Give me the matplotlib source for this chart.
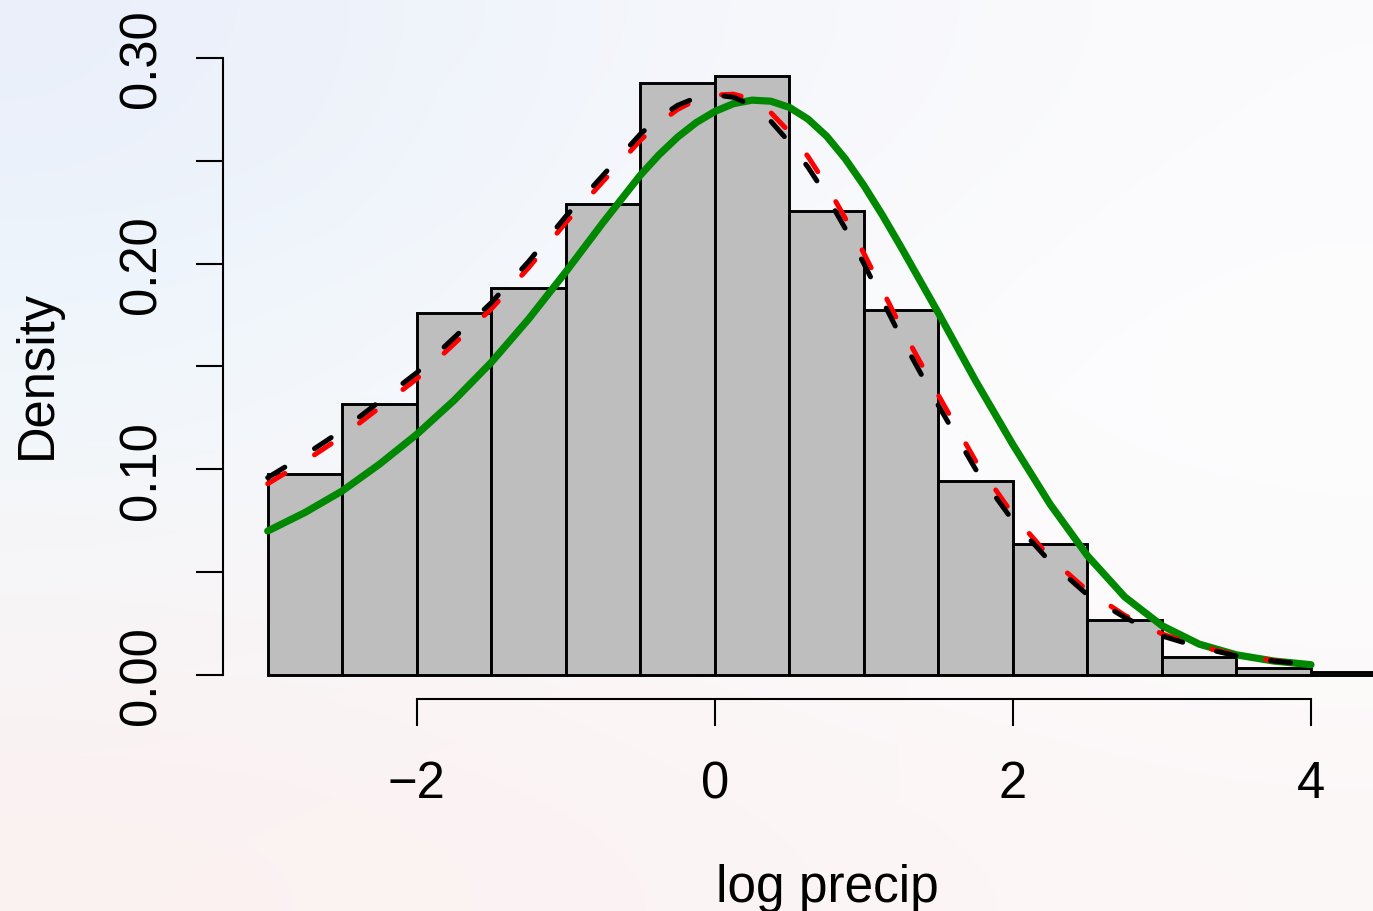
import numpy as np
import matplotlib
matplotlib.use("Agg")
import matplotlib.pyplot as plt

plt.rcParams['font.family'] = ['Liberation Sans', 'DejaVu Sans']

# histogram of log precip (density scale), bins of width 0.5
bin_edges = [-3.0, -2.5, -2.0, -1.5, -1.0, -0.5, 0.0, 0.5, 1.0, 1.5,
             2.0, 2.5, 3.0, 3.5, 4.0, 4.5]
bin_density = [0.0977, 0.1318, 0.1760, 0.1880, 0.2290, 0.2878, 0.2912,
               0.2256, 0.1775, 0.0943, 0.0637, 0.0267, 0.0088, 0.0034, 0.0015]

# fitted curves (finer spacing around the peak)
curve_x = [-3.00, -2.75, -2.50, -2.25, -2.00, -1.75, -1.50, -1.25, -1.00,
           -0.75, -0.50, -0.375, -0.25, -0.125, 0.00, 0.125, 0.25, 0.375,
           0.50, 0.625, 0.75, 0.875, 1.00, 1.125, 1.25, 1.50, 1.75, 2.00,
           2.25, 2.50, 2.75, 3.00, 3.25, 3.50, 3.75, 4.00]
green_fit = [0.0700, 0.0790, 0.0895, 0.1025, 0.1170, 0.1335, 0.1520, 0.1730,
             0.1960, 0.2200, 0.2430, 0.2529, 0.2615, 0.2686, 0.2740, 0.2778,
             0.2795, 0.2790, 0.2760, 0.2703, 0.2620, 0.2510, 0.2380, 0.2235,
             0.2080, 0.1760, 0.1430, 0.1120, 0.0830, 0.0580, 0.0380, 0.0240,
             0.0150, 0.0098, 0.0068, 0.0050]
red_fit = [0.093, 0.104, 0.116, 0.130, 0.144, 0.161, 0.178, 0.198, 0.220,
           0.240, 0.260, 0.2683, 0.275, 0.2796, 0.282, 0.2824, 0.280, 0.2735,
           0.264, 0.2521, 0.238, 0.2221, 0.205, 0.187, 0.169, 0.136, 0.104,
           0.078, 0.057, 0.041, 0.029, 0.020, 0.014, 0.0097, 0.007, 0.005]
black_fit = [0.096, 0.107, 0.119, 0.133, 0.147, 0.164, 0.181, 0.201, 0.223,
             0.243, 0.263, 0.2709, 0.277, 0.2807, 0.282, 0.2809, 0.277, 0.2693,
             0.259, 0.2469, 0.233, 0.2171, 0.200, 0.182, 0.164, 0.131, 0.100,
             0.075, 0.055, 0.039, 0.028, 0.019, 0.0135, 0.0093, 0.0068, 0.005]

x_ticks = [-2, 0, 2, 4]
x_ticklabels = ['\u22122', '0', '2', '4']
y_ticks = [0.00, 0.05, 0.10, 0.15, 0.20, 0.25, 0.30]
y_ticklabels = ['0.00', '', '0.10', '', '0.20', '', '0.30']

W, H = 1373, 912
fig = plt.figure(figsize=(W / 100, H / 100), dpi=100)

# soft slide-like background
bg = fig.add_axes([0, 0, 1, 1], zorder=-10)
bg_colors = np.array([
    [[234, 239, 250], [241, 245, 251], [248, 248, 252], [251, 251, 253]],
    [[239, 247, 252], [245, 249, 253], [251, 251, 253], [253, 253, 254]],
    [[247, 246, 248], [250, 247, 248], [252, 250, 251], [253, 252, 253]],
    [[251, 241, 241], [252, 243, 243], [252, 245, 245], [252, 247, 247]],
]) / 255.0
bg.imshow(bg_colors, aspect='auto', interpolation='bicubic', extent=[0, 1, 0, 1])
bg.axis('off')

# plot region in pixels: left 223, bottom 700, top 53
ax = fig.add_axes([223 / W, (H - 700) / H, (W - 223) / W, (700 - 53) / H])
ax.set_facecolor('none')

ax.bar(bin_edges[:-1], bin_density, width=0.5, align='edge',
       color='#BEBEBE', edgecolor='black', linewidth=2.1, zorder=2)

ax.plot(curve_x, green_fit, color='#008800', linewidth=5.2,
        solid_capstyle='round', solid_joinstyle='round', zorder=3)
ax.plot(curve_x, red_fit, color='red', linewidth=3.6, dashes=(4.0, 7.0),
        dash_capstyle='round', zorder=4)
ax.plot(curve_x, black_fit, color='black', linewidth=3.6, dashes=(4.0, 7.0),
        dash_capstyle='round', zorder=5)

ax.set_xlim(-3.3, (W - 715) / 149.0)
ax.set_ylim(-24 / 2056.7, (676 - 53) / 2056.7)

for side in ['top', 'right']:
    ax.spines[side].set_visible(False)
ax.spines['left'].set_bounds(0, 0.3)
ax.spines['bottom'].set_bounds(-2, 4)
ax.spines['left'].set_linewidth(1.5)
ax.spines['bottom'].set_linewidth(1.5)

ax.set_xticks(x_ticks)
ax.set_xticklabels(x_ticklabels)
ax.set_yticks(y_ticks)
ax.set_yticklabels(y_ticklabels, rotation=90, va='center')
ax.tick_params(axis='both', direction='out', length=19.5, width=1.5,
               labelsize=36.5)
ax.tick_params(axis='x', pad=24)
ax.tick_params(axis='y', pad=21)

fig.text(827 / W, (H - 902) / H, 'log precip', fontsize=37,
         ha='center', va='baseline')
fig.text(37 / W, 1 - 375 / H, 'Density', fontsize=36.5, rotation=90,
         ha='center', va='center')

fig.savefig('out.png', dpi=100)
